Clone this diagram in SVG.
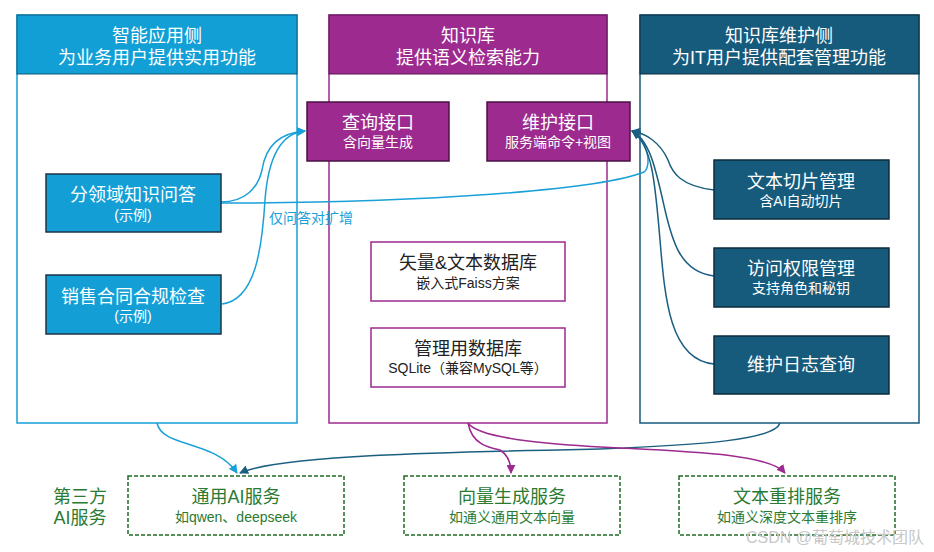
<svg xmlns="http://www.w3.org/2000/svg" width="934" height="552" viewBox="0 0 934 552">
<style>
text{font-family:"Liberation Sans","Noto Sans CJK SC",sans-serif;text-anchor:middle}
.hd{fill:#fff;font-size:18px}
.mt{fill:#fff;font-size:18px}
.s{font-size:14px}
.dk{fill:#222;}
.gr{fill:#2a7a32}
.pl{fill:#fff;stroke-width:1.5}
.bn{fill:#139fd6;stroke:#1d3446;stroke-width:1.5}
.pn{fill:#9c2a8f;stroke:#4a1244;stroke-width:1.5}
.tn{fill:#165a7c;stroke:#0d2c3c;stroke-width:1.5}
.wn{fill:#fff;stroke:#9c2a8f;stroke-width:1.5}
.gn{fill:#fff;stroke:#1f6b24;stroke-width:1.5;stroke-dasharray:4 2}
.c{fill:none;stroke-width:1.5}
.cb{stroke:#1aa0d8}
.cp{stroke:#9c2a8f}
.ct{stroke:#1b5f80}
</style>
<defs>
<marker id="ab" viewBox="0 0 10 10" refX="9" refY="5" markerWidth="6" markerHeight="6" orient="auto"><path d="M0,0 L10,5 L0,10 z" fill="#1aa0d8"/></marker>
<marker id="ap" viewBox="0 0 10 10" refX="9" refY="5" markerWidth="6" markerHeight="6" orient="auto"><path d="M0,0 L10,5 L0,10 z" fill="#9c2a8f"/></marker>
<marker id="at" viewBox="0 0 10 10" refX="9" refY="5" markerWidth="6" markerHeight="6" orient="auto"><path d="M0,0 L10,5 L0,10 z" fill="#1b5f80"/></marker>
</defs>
<rect width="934" height="552" fill="#fff"/>

<g id="panel-app">
<rect class="pl" x="17" y="15" width="280" height="408" stroke="#149fd8"/>
<rect x="17" y="15" width="280" height="59" fill="#129fd6" stroke="#0e5a7c" stroke-width="1"/>
<text class="hd" x="157" y="42">智能应用侧<tspan x="157" dy="22">为业务用户提供实用功能</tspan></text>
</g>
<g id="panel-kb">
<rect class="pl" x="329" y="15" width="278" height="408" stroke="#9c2a8f"/>
<rect x="329" y="15" width="278" height="59" fill="#9c2a8f" stroke="#5a1652" stroke-width="1"/>
<text class="hd" x="468" y="42">知识库<tspan x="468" dy="22">提供语义检索能力</tspan></text>
</g>
<g id="panel-maint">
<rect class="pl" x="640" y="15" width="279" height="408" stroke="#165a7e"/>
<rect x="640" y="15" width="279" height="59" fill="#165a7c" stroke="#0d2c3c" stroke-width="1"/>
<text class="hd" x="779" y="42">知识库维护侧<tspan x="779" dy="22">为IT用户提供配套管理功能</tspan></text>
</g>

<g id="connectors">
<path class="c cb" d="M221,202 C245,202 258,188 262,170 C266,145 280,133 305,131" marker-end="url(#ab)"/>
<path class="c cb" d="M222,304 C255,300 262,250 265,200 C268,160 280,133 305,131" marker-end="url(#ab)"/>
<path class="c cb" d="M221,203 C420,203 600,190 644,172 C652,166 648,140 632,131" marker-end="url(#ab)"/>
<path class="c ct" d="M714,190 C680,186 672,172 668,160 C660,142 645,133 632,131" marker-end="url(#at)"/>
<path class="c ct" d="M714,276 C680,272 672,240 665,210 C656,170 650,140 632,131" marker-end="url(#at)"/>
<path class="c ct" d="M714,364 C670,360 665,300 660,240 C655,180 652,145 632,131" marker-end="url(#at)"/>
<path class="c cb" d="M157,423 C162,448 215,440 237,473" marker-end="url(#ab)"/>
<path class="c ct" d="M780,423 C775,440 700,445 600,449 C450,452 280,455 240,473" marker-end="url(#at)"/>
<path class="c cp" d="M468,423 C472,445 490,448 500,450 C508,455 511,462 511,473" marker-end="url(#ap)"/>
<path class="c cp" d="M468,423 C480,440 560,445 620,448 C700,452 770,455 785,473" marker-end="url(#ap)"/>
<text x="311" y="223" fill="#1aa0d8" font-size="14">仅问答对扩增</text>
</g>

<g id="node-qa">
<rect class="bn" x="46" y="174" width="175" height="58"/>
<text class="mt" x="133" y="201">分领域知识问答<tspan class="s" x="133" dy="19">(示例)</tspan></text>
</g>
<g id="node-sales">
<rect class="bn" x="46" y="275" width="175" height="59"/>
<text class="mt" x="133" y="303">销售合同合规检查<tspan class="s" x="133" dy="18">(示例)</tspan></text>
</g>
<g id="node-query">
<rect class="pn" x="307" y="102" width="142" height="59"/>
<text class="mt" x="378" y="129">查询接口<tspan class="s" x="378" dy="18">含向量生成</tspan></text>
</g>
<g id="node-maint-if">
<rect class="pn" x="487" y="102" width="143" height="59"/>
<text class="mt" x="558" y="129">维护接口<tspan class="s" x="558" dy="18">服务端命令+视图</tspan></text>
</g>
<g id="node-vecdb">
<rect class="wn" x="371" y="242" width="194" height="59"/>
<text class="mt dk" x="468" y="269">矢量&amp;文本数据库<tspan class="s" x="468" dy="19">嵌入式Faiss方案</tspan></text>
</g>
<g id="node-mgmtdb">
<rect class="wn" x="371" y="328" width="194" height="59"/>
<text class="mt dk" x="468" y="355">管理用数据库<tspan class="s" x="468" dy="18">SQLite（兼容MySQL等）</tspan></text>
</g>
<g id="node-slice">
<rect class="tn" x="714" y="160" width="175" height="59"/>
<text class="mt" x="801" y="188">文本切片管理<tspan class="s" x="801" dy="18">含AI自动切片</tspan></text>
</g>
<g id="node-perm">
<rect class="tn" x="714" y="248" width="175" height="59"/>
<text class="mt" x="801" y="275">访问权限管理<tspan class="s" x="801" dy="18">支持角色和秘钥</tspan></text>
</g>
<g id="node-log">
<rect class="tn" x="714" y="336" width="175" height="58"/>
<text class="mt" x="801" y="371">维护日志查询</text>
</g>

<g id="label-third">
<text class="gr" x="80" y="503" font-size="18">第三方<tspan x="80" dy="21">AI服务</tspan></text>
</g>
<g id="node-genai">
<rect class="gn" x="128" y="476" width="216" height="59"/>
<text class="gr" x="236" y="503" font-size="18">通用AI服务<tspan class="s" x="236" dy="19">如qwen、deepseek</tspan></text>
</g>
<g id="node-embed">
<rect class="gn" x="404" y="476" width="216" height="59"/>
<text class="gr" x="512" y="503" font-size="18">向量生成服务<tspan class="s" x="512" dy="19">如通义通用文本向量</tspan></text>
</g>
<g id="node-rerank">
<rect class="gn" x="679" y="476" width="216" height="59"/>
<text class="gr" x="787" y="503" font-size="18">文本重排服务<tspan class="s" x="787" dy="19">如通义深度文本重排序</tspan></text>
</g>
<text x="835" y="543" fill="#c8c8c8" font-size="16">CSDN @葡萄城技术团队</text>
</svg>
